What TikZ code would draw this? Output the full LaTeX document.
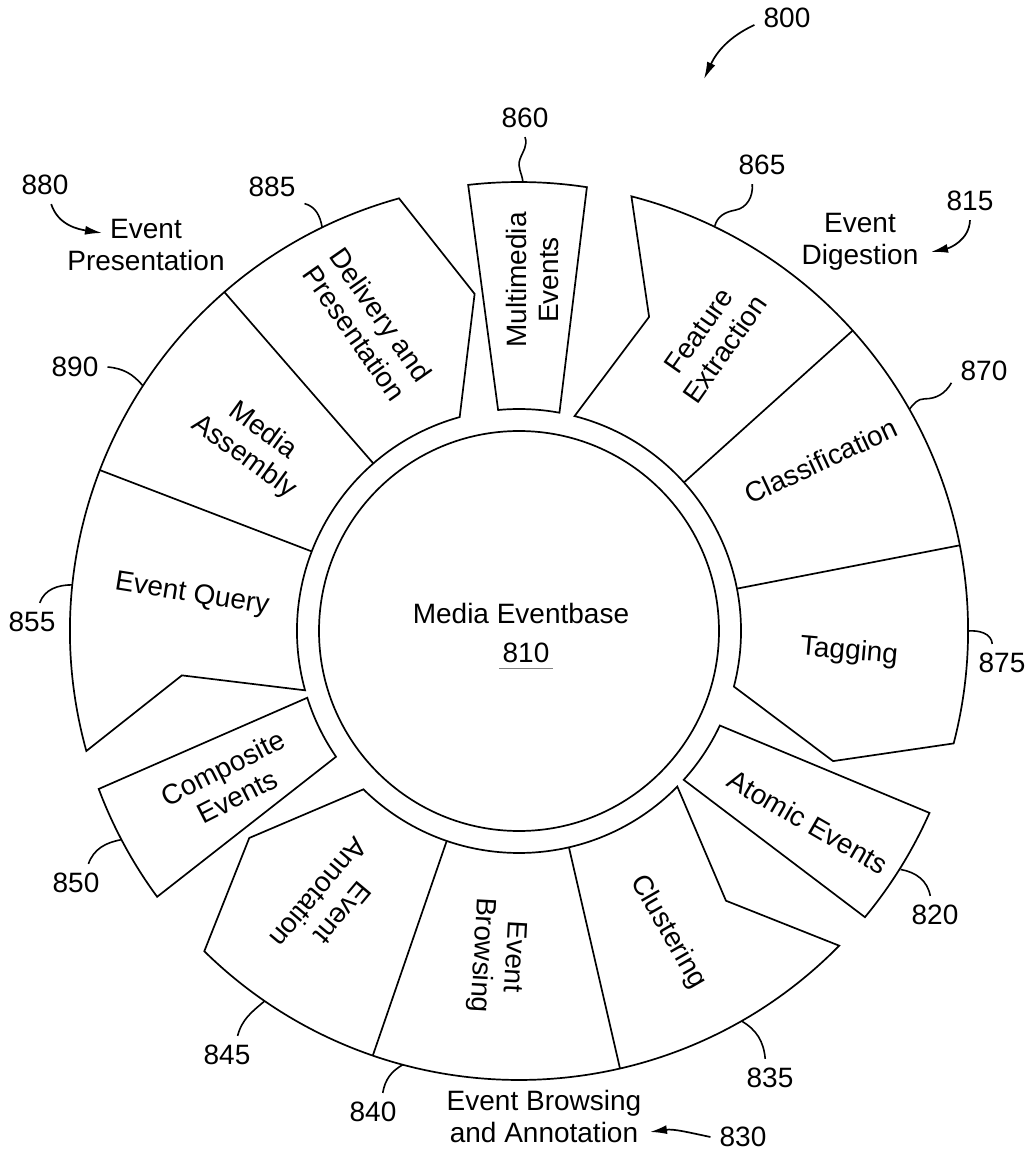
\documentclass[tikz,border=0pt]{standalone}
\usepackage{fontspec}
\setmainfont{Liberation Sans}
\usetikzlibrary{arrows.meta,positioning}

\begin{document}
\begin{tikzpicture}[x=1pt, y=1pt, >={Latex[length=17pt,width=9pt]},
		font=\fontsize{28}{32}\selectfont,
		part/.style={draw, line width=1.7pt},
		seclabel/.style={align=center, inner sep=0pt},
		reflabel/.style={inner sep=9pt},
		leader/.style={line width=1.6pt},
		refarrow/.style={line width=1.7pt, ->}]
	\useasboundingbox (-519,-532) rectangle (515,631);

	% eventbase in the middle
	\draw[part] (0,0) circle (200);
	\node (eventbase) at (2,18) {Media Eventbase};
	\node (n810) at (7,-22) {810};
	\draw[gray, line width=0.8pt] ([yshift=-6pt]n810.base west) -- ([yshift=-6pt]n810.base east);

	% three process groups: notch at the start, point at the end
	\foreach \s in {75.5,-44.5,195.5} {
		\pgfmathsetmacro\e{\s-90}
		\draw[part] (\s:449) arc[start angle=\s, end angle=\e, radius=449]
			-- ({\e-8}:340) -- (\e:222) arc[start angle=\e, end angle=\s, radius=222]
			-- ({\s-8}:340) -- cycle;
	}
	\foreach \a in {42,11,-77,-109,159,131} {
		\draw[part] (\a:222) -- (\a:449);
	}

	% event boxes between the groups
	\draw[part] (96.5:449) arc[start angle=96.5, end angle=81.3, radius=449]
		-- (79.5:222) arc[start angle=79.5, end angle=95.4, radius=222] -- cycle;
	\draw[part] (-23.9:449) arc[start angle=-23.9, end angle=-39.6, radius=449]
		-- (-42.1:222) arc[start angle=-42.1, end angle=-25.2, radius=222] -- cycle;
	\draw[part] (200.6:449) arc[start angle=200.6, end angle=216.3, radius=449]
		-- (214.5:222) arc[start angle=214.5, end angle=197.5, radius=222] -- cycle;

	% sector texts
	\node[seclabel, rotate=55] (feat) at (193,291) {Feature\\Extraction};
	\node[seclabel, rotate=25] (classif) at (302,170) {Classification};
	\node[seclabel, rotate=-5] (tagging) at (330,-21) {Tagging};
	\node[seclabel, rotate=-30] (atomic) at (289,-191) {Atomic Events};
	\node[seclabel, rotate=-60] (cluster) at (149,-301) {Clustering};
	\node[seclabel, rotate=-93] (browse) at (-22,-325) {Event\\Browsing};
	\node[seclabel, rotate=-130] (annot) at (-188,-272) {Event\\Annotation};
	\node[seclabel, rotate=27] (composite) at (-289,-151) {Composite\\Events};
	\node[seclabel, rotate=-9] (query) at (-327,36) {Event Query};
	\node[seclabel, rotate=-36] (assembly) at (-266,187) {Media\\Assembly};
	\node[seclabel, rotate=-55] (delivery) at (-151,307) {Delivery and\\Presentation};
	\node[seclabel, rotate=90] (multimedia) at (13,351) {Multimedia\\Events};

	% group names
	\node[seclabel] (digestion) at (341,389) {Event\\Digestion};
	\node[seclabel] (browsing) at (25,-485) {Event Browsing\\and Annotation};
	\node[seclabel] (presentation) at (-373,386) {Event\\Presentation};

	% reference numerals
	\node[reflabel] (n800) at (268,613) {800};
	\node[reflabel] (n815) at (451,430) {815};
	\node[reflabel] (n830) at (224,-506) {830};
	\node[reflabel] (n880) at (-474,446) {880};
	\node[reflabel] (n860) at (6,513) {860};
	\node[reflabel] (n865) at (243,466) {865};
	\node[reflabel] (n870) at (465,260) {870};
	\node[reflabel] (n875) at (483,-32) {875};
	\node[reflabel] (n820) at (416,-284) {820};
	\node[reflabel] (n835) at (251,-447) {835};
	\node[reflabel] (n840) at (-146,-481) {840};
	\node[reflabel] (n845) at (-292,-424) {845};
	\node[reflabel] (n850) at (-443,-252) {850};
	\node[reflabel] (n855) at (-487,9) {855};
	\node[reflabel] (n890) at (-444,264) {890};
	\node[reflabel] (n885) at (-247,444) {885};

	% where the leaders touch the outline
	\coordinate (e860) at (89.5:449);
	\coordinate (e865) at (64.2:450);
	\coordinate (e870) at (29.6:449);
	\coordinate (e875) at (0:449);
	\coordinate (e820) at (-32:450);
	\coordinate (e835) at (-60.3:449);
	\coordinate (e840) at (-105:449);
	\coordinate (e845) at (-124.5:449);
	\coordinate (e850) at (207.7:449);
	\coordinate (e855) at (174.1:449);
	\coordinate (e890) at (146.9:449);
	\coordinate (e885) at (116:449);
	\coordinate (t800) at (185,552);
	\coordinate (t815) at (412,379);
	\coordinate (t830) at (131,-501);
	\coordinate (t880) at (-417,398);

	\draw[refarrow] (n800.192) to[out=205, in=65] (t800);
	\draw[refarrow] (n815.south) to[out=-92, in=12] (t815);
	\draw[refarrow] (n830.west) to[out=168, in=8] (t830);
	\draw[refarrow] (n880.-72) to[out=-72, in=171] (t880);

	\draw[leader] (n860.south) to[out=-70, in=70] ++(-5,-22) to[out=-110, in=95] (e860);
	\draw[leader] (n865.-117) to[out=-85, in=10] ++(-17,-26) to[out=190, in=75] (e865);
	\draw[leader] (n870.200) to[out=-120, in=0] ++(-27,-16) to[out=180, in=50] (e870);
	\draw[leader] (n875.117) to[out=95, in=5] (e875);
	\draw[leader] (n820.104) to[out=100, in=-10] (e820);
	\draw[leader] (n835.104) to[out=95, in=-30] (e835);
	\draw[leader] (n840.63) to[out=80, in=210] (e840);
	\draw[leader] (n845.61) to[out=75, in=220] (e845);
	\draw[leader] (n850.57) to[out=70, in=190] (e850);
	\draw[leader] (n855.68) to[out=70, in=180] (e855);
	\draw[leader] (n890.east) to[out=-5, in=130] (e890);
	\draw[leader] (n885.-27) to[out=-15, in=100] (e885);
\end{tikzpicture}
\end{document}
